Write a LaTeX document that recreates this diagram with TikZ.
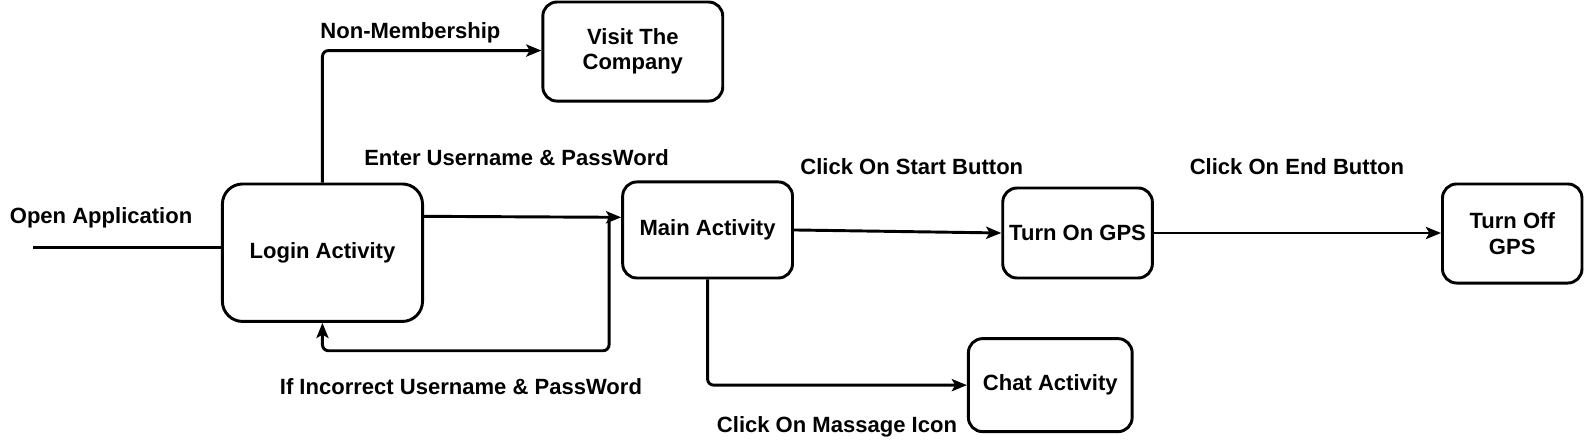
\documentclass[tikz,border=0pt]{standalone}
\usepackage{fontspec}
\setmainfont{Liberation Sans}
\usetikzlibrary{arrows.meta}
\begin{document}
\begin{tikzpicture}[x=1pt,y=-1pt,
  box/.style={draw=black,line width=2.9pt,rounded corners=14pt,fill=white,align=center,inner sep=0pt},
  conn/.style={line width=2.9pt,draw=black},
  arr/.style={conn,-{Stealth[length=15pt,width=12pt,inset=3.5pt]}},
  lbl/.style={inner sep=0pt},
  every node/.append style={font=\fontsize{21.8}{26}\selectfont\bfseries}
]
\useasboundingbox (0,0) rectangle (1568,438.2);
% boxes
\node[box,minimum width=178pt,minimum height=98pt] (visit) at (626,51) {Visit The\\[-1pt]Company};
\node[box,minimum width=198pt,minimum height=136pt,rounded corners=20pt] (login) at (319,250) {Login Activity};
\node[box,minimum width=168pt,minimum height=95pt] (main) at (700,227.5) {Main Activity};
\node[box,minimum width=148pt,minimum height=89pt] (gpson) at (1066,230.5) {Turn On GPS};
\node[box,minimum width=138pt,minimum height=98pt] (gpsoff) at (1496,231) {Turn Off\\[-1pt]GPS};
\node[box,minimum width=162pt,minimum height=92pt] (chat) at (1039,381) {Chat Activity};
% free end
\coordinate (start) at (33,245);
% connectors
\draw[conn] (start) -- (start -| login.west);
\draw[arr,rounded corners=6pt] (login.north) |- (visit.west |- 0,50);
\draw[arr] (login.east |- 0,214) -- (main.west |- 0,215);
\draw[arr,rounded corners=6pt] ([xshift=-12pt]main.west |- 0,215) |- (login.south |- 0,347) -- (login.south);
\draw[arr] (main.east) -- (gpson.west);
\draw[arr] (gpson.east) -- (gpsoff.west |- gpson.east);
\draw[arr,rounded corners=6pt] (main.south) |- (chat.west);
% labels
\node[lbl] (l1) at (406,32) {Non-Membership};
\node[lbl] (l2) at (511,156) {Enter Username \& PassWord};
\node[lbl] (l3) at (902,165) {Click On Start Button};
\node[lbl] (l4) at (1283,165) {Click On End Button};
\node[lbl] (l5) at (100,215) {Open Application};
\node[lbl] (l6) at (456,382) {If Incorrect Username \& PassWord};
\node[lbl] (l7) at (828,422) {Click On Massage Icon};
\end{tikzpicture}
\end{document}
